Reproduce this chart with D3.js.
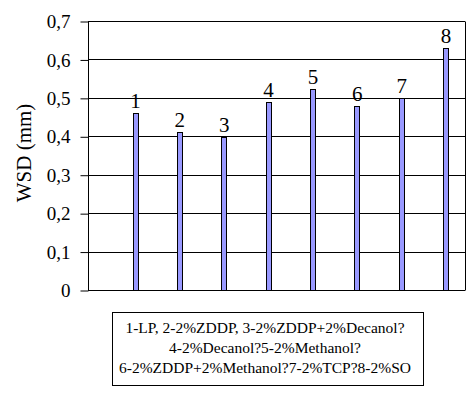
<!DOCTYPE html>
<html>
<head>
<meta charset="utf-8">
<script src="https://cdn.jsdelivr.net/npm/d3@7"></script>
<style>
  body { margin: 0; background: #fff; }
  svg { display: block; }
</style>
</head>
<body>
<svg width="475" height="395"></svg>
<script>
// data
var categories = ["1", "2", "3", "4", "5", "6", "7", "8"];
var wsd = [0.46, 0.41, 0.397, 0.49, 0.523, 0.48, 0.50, 0.63];
var yTicks = [0, 0.1, 0.2, 0.3, 0.4, 0.5, 0.6, 0.7];
var legendLines = [
  "1-LP, 2-2%ZDDP, 3-2%ZDDP+2%Decanol?",
  "4-2%Decanol?5-2%Methanol?",
  "6-2%ZDDP+2%Methanol?7-2%TCP?8-2%SO"
];

var FONT = "Liberation Serif";
var svg = d3.select("svg");
var plotLeft = 88, plotRight = 465, plotTop = 21, plotBottom = 290;

var x = d3.scalePoint().domain(categories).range([135.5, 446]);
var y = d3.scaleLinear().domain([0, 0.7]).range([plotBottom, plotTop]);

function py(v) { return Math.round(y(v)) + 0.5; }

// gridlines
svg.append("g").selectAll("line")
  .data(yTicks).enter().append("line")
  .attr("x1", plotLeft).attr("x2", plotRight)
  .attr("y1", py).attr("y2", py)
  .attr("stroke", "#000").attr("stroke-width", 1);

// right border
svg.append("line")
  .attr("x1", plotRight + 0.5).attr("x2", plotRight + 0.5)
  .attr("y1", py(0.7)).attr("y2", py(0))
  .attr("stroke", "#000");

// y axis
var yAxis = d3.axisLeft(y)
  .tickValues(yTicks)
  .tickSize(8)
  .tickPadding(10)
  .tickFormat(function(d) { return d === 0 ? "0" : d3.format(".1f")(d).replace(".", ","); });

var ga = svg.append("g")
  .attr("transform", "translate(" + (plotLeft + 0.5) + ",0.5)")
  .call(yAxis);
ga.select(".domain").attr("stroke", "#000").attr("d", "M0," + Math.round(y(0.7)) + "V" + Math.round(y(0)));
ga.selectAll(".tick line").attr("stroke", "#000");
ga.selectAll("text")
  .attr("fill", "#000")
  .style("font-family", FONT)
  .style("font-size", "19px");

svg.append("text")
  .attr("transform", "translate(31,153) rotate(-90)")
  .attr("text-anchor", "middle")
  .style("font-family", FONT)
  .style("font-size", "21px")
  .text("WSD (mm)");

// bars
var barW = 5;
svg.selectAll(".bar")
  .data(wsd).enter().append("rect")
  .attr("class", "bar")
  .attr("x", function(d, i) { return Math.round(x(categories[i]) - barW / 2 - 0.5) + 0.5; })
  .attr("y", function(d) { return Math.round(y(d)) + 0.5; })
  .attr("width", barW)
  .attr("height", function(d) { return Math.round(y(0)) - Math.round(y(d)); })
  .attr("fill", "#9999ff")
  .attr("stroke", "#000")
  .attr("stroke-width", 1);

// bar number labels
svg.selectAll(".lbl")
  .data(wsd).enter().append("text")
  .attr("class", "lbl")
  .attr("x", function(d, i) { return x(categories[i]); })
  .attr("y", function(d) { return y(d) - 5; })
  .attr("text-anchor", "middle")
  .style("font-family", FONT)
  .style("font-size", "21px")
  .text(function(d, i) { return categories[i]; });

// legend box
svg.append("rect")
  .attr("x", 112.5).attr("y", 312.5)
  .attr("width", 311).attr("height", 73)
  .attr("fill", "#fff").attr("stroke", "#000");

svg.selectAll(".leg")
  .data(legendLines).enter().append("text")
  .attr("class", "leg")
  .attr("x", 265)
  .attr("y", function(d, i) { return 333 + i * 20; })
  .attr("text-anchor", "middle")
  .style("font-family", FONT)
  .style("font-size", "15.5px")
  .text(function(d) { return d; });
</script>
</body>
</html>
